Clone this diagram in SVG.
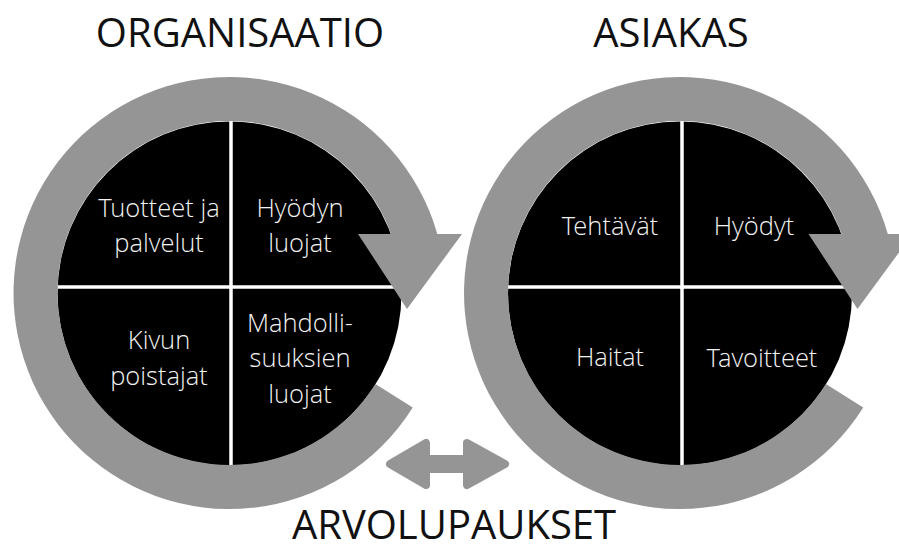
<svg xmlns="http://www.w3.org/2000/svg" xmlns:xlink="http://www.w3.org/1999/xlink" width="899" height="552" viewBox="0 0 899 552">
  <style>
    .title { font-family: "Open Sans", "Liberation Sans", sans-serif; font-size: 40px; fill: #111; text-anchor: middle; }
    .lbl { font-family: "Open Sans Light", "Open Sans", "Liberation Sans", sans-serif; font-weight: 300; font-size: 25.5px; fill: #f2f2f2; text-anchor: middle; }
    .disc { fill: #000; }
    .div { stroke: #fff; stroke-width: 3.5; }
    .ring { fill: #959595; }
    .dbl { fill: #959595; stroke: #959595; stroke-width: 8; stroke-linejoin: round; }
  </style>
  <defs>
    <path id="ringShape" class="ring" d="M412.7,407.5 A216,216 0 1 1 437.3,234 L462,234 L407,309 L358,234 L391.1,234 A172,172 0 1 0 375.4,384.1 Z"/>
  </defs>
  <rect width="899" height="552" fill="#fff"/>

  <g id="organisaatio">
    <circle class="disc" cx="229.5" cy="293.5" r="172"/>
    <line class="div" x1="231" y1="121" x2="231" y2="466"/>
    <line class="div" x1="58" y1="287" x2="405" y2="287"/>
    <use xlink:href="#ringShape"/>
    <text class="title" x="240" y="47">ORGANISAATIO</text>
    <text class="lbl" x="159" y="217">Tuotteet ja</text>
    <text class="lbl" x="159" y="252">palvelut</text>
    <text class="lbl" x="300" y="217">Hyödyn</text>
    <text class="lbl" x="300" y="252">luojat</text>
    <text class="lbl" x="159" y="349">Kivun</text>
    <text class="lbl" x="159" y="385">poistajat</text>
    <text class="lbl" x="300" y="332">Mahdolli-</text>
    <text class="lbl" x="300" y="367">suuksien</text>
    <text class="lbl" x="300" y="403">luojat</text>
  </g>

  <g id="asiakas">
    <circle class="disc" cx="680" cy="293.5" r="172"/>
    <line class="div" x1="682" y1="121" x2="682" y2="466"/>
    <line class="div" x1="508" y1="287" x2="856" y2="287"/>
    <use xlink:href="#ringShape" transform="translate(450.5,0)"/>
    <text class="title" x="671" y="47">ASIAKAS</text>
    <text class="lbl" x="610" y="235">Tehtävät</text>
    <text class="lbl" x="754" y="235">Hyödyt</text>
    <text class="lbl" x="610" y="366">Haitat</text>
    <text class="lbl" x="762" y="367">Tavoitteet</text>
  </g>

  <g id="connectors">
    <polygon class="dbl" points="390,464 426,443 426,459 467,459 467,443 505,464 467,485 467,469 426,469 426,485"/>
    <text class="title" x="454" y="539">ARVOLUPAUKSET</text>
  </g>
</svg>
